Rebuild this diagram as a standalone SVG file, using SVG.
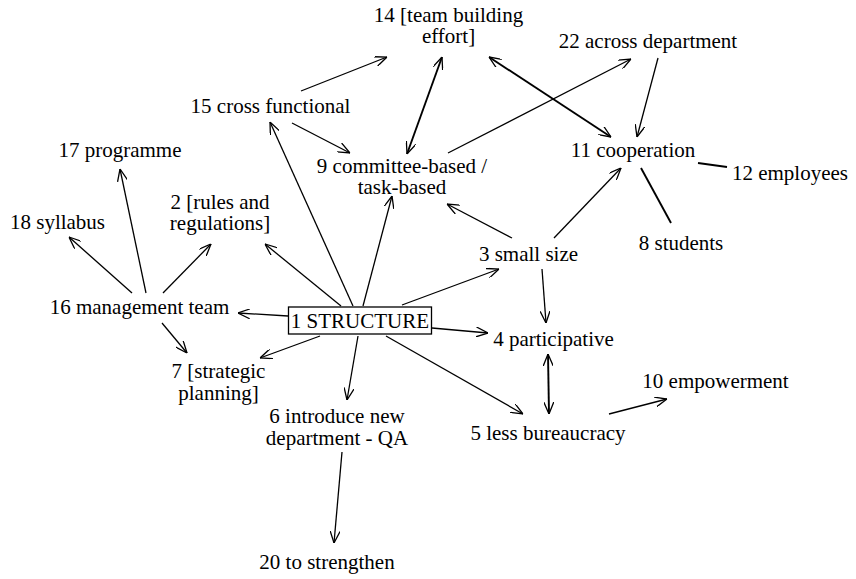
<svg xmlns="http://www.w3.org/2000/svg" width="856" height="579" viewBox="0 0 856 579">
  <style>
    .lbl { font-size: 21px; fill: #000; text-anchor: middle; }
    .edge { stroke: #000; stroke-width: 1.3; fill: none; }
    .bold { stroke-width: 1.9; }
    .box { fill: #fff; stroke: #000; stroke-width: 1.3; }
  </style>
  <defs>
    <marker id="arrow" viewBox="0 0 12 10" refX="12" refY="5" markerWidth="12" markerHeight="10" markerUnits="userSpaceOnUse" orient="auto-start-reverse">
      <path d="M0,0 L12,5 L0,10" fill="none" stroke="#000" stroke-width="1.3"/>
    </marker>
  </defs>
  <rect width="856" height="579" fill="#fff"/>

  <g id="connectors">
    <line class="edge" x1="301" y1="91" x2="387" y2="57" marker-end="url(#arrow)"/>
    <line class="edge" x1="292" y1="123" x2="350" y2="153" marker-end="url(#arrow)"/>
    <line class="edge bold" x1="442" y1="57" x2="407" y2="154" marker-start="url(#arrow)" marker-end="url(#arrow)"/>
    <line class="edge bold" x1="489" y1="57" x2="611" y2="137" marker-start="url(#arrow)" marker-end="url(#arrow)"/>
    <line class="edge" x1="448" y1="153" x2="631" y2="59" marker-end="url(#arrow)"/>
    <line class="edge" x1="658" y1="58" x2="637" y2="137" marker-end="url(#arrow)"/>
    <line class="edge bold" x1="698" y1="163" x2="727" y2="167"/>
    <line class="edge bold" x1="641" y1="168" x2="671" y2="223"/>
    <line class="edge" x1="512" y1="238" x2="447" y2="204" marker-end="url(#arrow)"/>
    <line class="edge" x1="554" y1="238" x2="621" y2="168" marker-end="url(#arrow)"/>
    <line class="edge" x1="146" y1="293" x2="120" y2="169" marker-end="url(#arrow)"/>
    <line class="edge" x1="132" y1="293" x2="69" y2="237" marker-end="url(#arrow)"/>
    <line class="edge" x1="163" y1="293" x2="211" y2="244" marker-end="url(#arrow)"/>
    <line class="edge" x1="162" y1="323" x2="187" y2="353" marker-end="url(#arrow)"/>
    <line class="edge" x1="288" y1="316" x2="238" y2="313" marker-end="url(#arrow)"/>
    <line class="edge" x1="320" y1="336" x2="260" y2="358" marker-end="url(#arrow)"/>
    <line class="edge" x1="341" y1="306" x2="265" y2="244" marker-end="url(#arrow)"/>
    <line class="edge" x1="353" y1="306" x2="270" y2="122" marker-end="url(#arrow)"/>
    <line class="edge" x1="363" y1="306" x2="392" y2="196" marker-end="url(#arrow)"/>
    <line class="edge" x1="402" y1="305" x2="499" y2="269" marker-end="url(#arrow)"/>
    <line class="edge" x1="432" y1="328" x2="488" y2="333" marker-end="url(#arrow)"/>
    <line class="edge" x1="358" y1="336" x2="347" y2="400" marker-end="url(#arrow)"/>
    <line class="edge" x1="386" y1="336" x2="523" y2="414" marker-end="url(#arrow)"/>
    <line class="edge" x1="542" y1="269" x2="546" y2="323" marker-end="url(#arrow)"/>
    <line class="edge bold" x1="548" y1="354" x2="549" y2="414" marker-start="url(#arrow)" marker-end="url(#arrow)"/>
    <line class="edge" x1="609" y1="414" x2="667" y2="399" marker-end="url(#arrow)"/>
    <line class="edge" x1="342" y1="452" x2="334" y2="543" marker-end="url(#arrow)"/>
  </g>

  <g font-family="'Liberation Serif', 'Times New Roman', Times, 'DejaVu Serif', serif">
    <g id="n1"><rect class="box" x="288.5" y="307" width="143" height="27"/><text class="lbl" x="360" y="328">1 STRUCTURE</text></g>
    <g id="n2"><text class="lbl" x="220" y="209">2 [rules and</text><text class="lbl" x="220" y="230">regulations]</text></g>
    <g id="n3"><text class="lbl" x="528.5" y="261">3 small size</text></g>
    <g id="n4"><text class="lbl" x="553.5" y="346">4 participative</text></g>
    <g id="n5"><text class="lbl" x="548" y="440">5 less bureaucracy</text></g>
    <g id="n6"><text class="lbl" x="337" y="423">6 introduce new</text><text class="lbl" x="337" y="445">department - QA</text></g>
    <g id="n7"><text class="lbl" x="218.5" y="378">7 [strategic</text><text class="lbl" x="218.5" y="400">planning]</text></g>
    <g id="n8"><text class="lbl" x="681" y="250">8 students</text></g>
    <g id="n9"><text class="lbl" x="402" y="173">9 committee-based /</text><text class="lbl" x="402" y="194">task-based</text></g>
    <g id="n10"><text class="lbl" x="715.5" y="388">10 empowerment</text></g>
    <g id="n11"><text class="lbl" x="633" y="157">11 cooperation</text></g>
    <g id="n12"><text class="lbl" x="790" y="180">12 employees</text></g>
    <g id="n14"><text class="lbl" x="448.5" y="22">14 [team building</text><text class="lbl" x="448.5" y="43">effort]</text></g>
    <g id="n15"><text class="lbl" x="270.5" y="113">15 cross functional</text></g>
    <g id="n16"><text class="lbl" x="139.5" y="314">16 management team</text></g>
    <g id="n17"><text class="lbl" x="120" y="157">17 programme</text></g>
    <g id="n18"><text class="lbl" x="57.5" y="229">18 syllabus</text></g>
    <g id="n20"><text class="lbl" x="327" y="569">20 to strengthen</text></g>
    <g id="n22"><text class="lbl" x="648" y="48">22 across department</text></g>
  </g>
</svg>
